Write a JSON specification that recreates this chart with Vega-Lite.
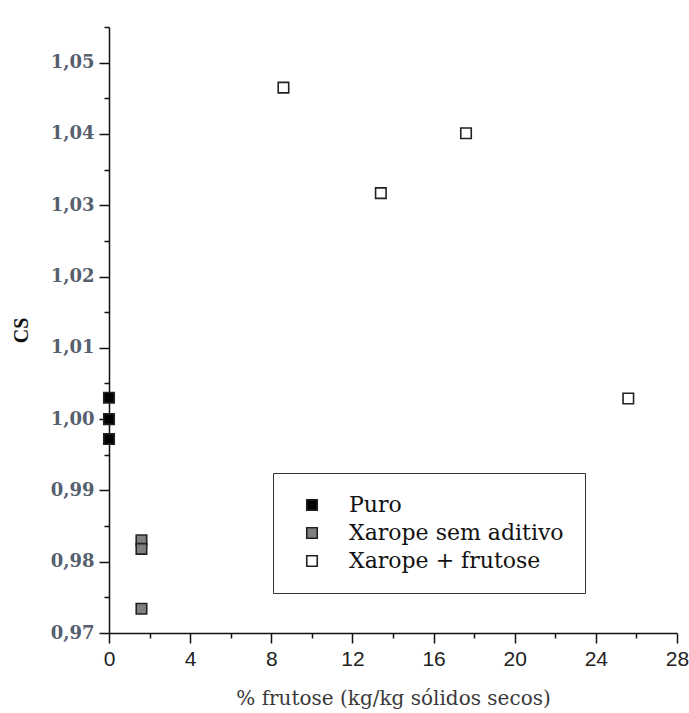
{
  "$schema": "https://vega.github.io/schema/vega-lite/v6.json",
  "autosize": "none",
  "width": 568,
  "height": 606,
  "padding": {"left": 109, "top": 27, "right": 12, "bottom": 80},
  "background": "white",
  "config": {"view": {"stroke": null}},
  "data": {
    "values": [
      {"serie": "Puro", "frutose": 0, "CS": 1.003},
      {"serie": "Puro", "frutose": 0, "CS": 1.0},
      {"serie": "Puro", "frutose": 0, "CS": 0.9972},
      {"serie": "Xarope sem aditivo", "frutose": 1.6, "CS": 0.983},
      {"serie": "Xarope sem aditivo", "frutose": 1.6, "CS": 0.9818},
      {"serie": "Xarope sem aditivo", "frutose": 1.6, "CS": 0.9734},
      {"serie": "Xarope + frutose", "frutose": 8.6, "CS": 1.0465},
      {"serie": "Xarope + frutose", "frutose": 13.4, "CS": 1.0317},
      {"serie": "Xarope + frutose", "frutose": 17.6, "CS": 1.0401},
      {"serie": "Xarope + frutose", "frutose": 25.6, "CS": 1.0029}
    ]
  },
  "mark": {"type": "point", "shape": "square", "filled": true, "size": 110, "stroke": "#222", "strokeWidth": 1.6, "opacity": 1},
  "encoding": {
    "x": {
      "field": "frutose", "type": "quantitative",
      "scale": {"domain": [0, 28], "nice": false, "zero": false},
      "axis": {
        "title": "% frutose (kg/kg sólidos secos)",
        "titleFont": "DejaVu Serif", "titleFontSize": 20, "titleFontWeight": "normal", "titleColor": "#3a3a3a", "titlePadding": 19,
        "values": [0, 2, 4, 6, 8, 10, 12, 14, 16, 18, 20, 22, 24, 26, 28],
        "labelExpr": "datum.value % 4 == 0 ? format(datum.value, 'd') : ''",
        "labelFont": "Liberation Sans", "labelFontSize": 21, "labelColor": "#222", "labelPadding": 5, "labelFlush": false,
        "grid": false, "domainColor": "#111", "domainWidth": 1.5, "tickColor": "#111", "tickWidth": 1.5,
        "tickSize": {"condition": {"test": "datum.value % 4 == 0", "value": 10}, "value": 5}
      }
    },
    "y": {
      "field": "CS", "type": "quantitative",
      "scale": {"domain": [0.97, 1.055], "nice": false, "zero": false},
      "axis": {
        "title": "CS",
        "titleFont": "Liberation Serif", "titleFontSize": 20, "titleFontWeight": "bold", "titleColor": "#111", "titlePadding": 19,
        "values": [0.97, 0.975, 0.98, 0.985, 0.99, 0.995, 1.0, 1.005, 1.01, 1.015, 1.02, 1.025, 1.03, 1.035, 1.04, 1.045, 1.05, 1.055],
        "labelExpr": "round(datum.value * 1000) % 10 == 0 ? replace(format(datum.value, '.2f'), '.', ',') : ''",
        "labelFont": "DejaVu Serif", "labelFontSize": 18, "labelFontWeight": "bold", "labelColor": "#56606e", "labelPadding": 5, "labelFlush": false,
        "grid": false, "domainColor": "#111", "domainWidth": 1.5, "tickColor": "#111", "tickWidth": 1.5,
        "tickSize": {"condition": {"test": "round(datum.value * 1000) % 10 == 0", "value": 10}, "value": 5}
      }
    },
    "fill": {
      "field": "serie", "type": "nominal",
      "scale": {"domain": ["Puro", "Xarope sem aditivo", "Xarope + frutose"], "range": ["#000000", "#808080", "#ffffff"]},
      "legend": {
        "title": null,
        "orient": "none", "legendX": 164, "legendY": 446,
        "strokeColor": "#333", "padding": 21,
        "symbolType": "square", "symbolSize": 110, "symbolStrokeColor": "#222", "symbolStrokeWidth": 1.6, "symbolOffset": 7,
        "labelFont": "DejaVu Serif", "labelFontSize": 22, "labelColor": "#111", "labelOffset": 26, "labelLimit": 400,
        "rowPadding": 6
      }
    }
  }
}
